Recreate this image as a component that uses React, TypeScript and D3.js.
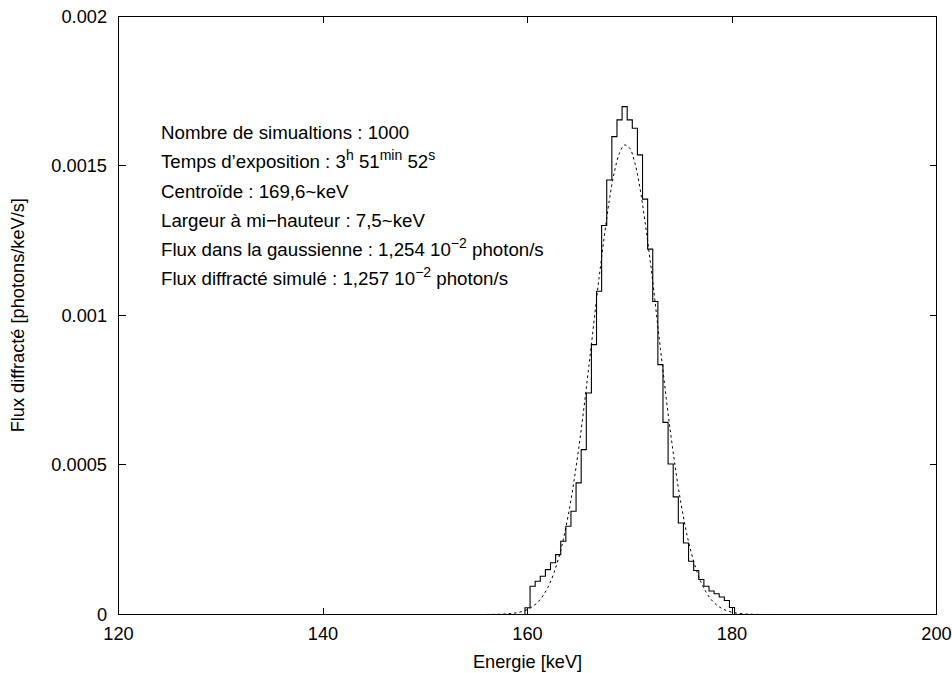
import React from 'react';
import * as d3 from 'd3';

const W = 952;
const H = 673;

// Histogram bins (centre energy in keV, width 0.5 keV) and flux values
const binCenters = [
  160.0, 160.5, 161.0, 161.5, 162.0, 162.5, 163.0, 163.5, 164.0, 164.5,
  165.0, 165.5, 166.0, 166.5, 167.0, 167.5, 168.0, 168.5, 169.0, 169.5,
  170.0, 170.5, 171.0, 171.5, 172.0, 172.5, 173.0, 173.5, 174.0, 174.5,
  175.0, 175.5, 176.0, 176.5, 177.0, 177.5, 178.0, 178.5, 179.0, 179.5,
  180.0,
];
const binValues = [
  0.0000224, 0.0000945, 0.000111, 0.000128, 0.00015, 0.000173, 0.0002, 0.000245, 0.000295, 0.000345,
  0.00044, 0.000551, 0.00074, 0.000902, 0.00108, 0.0013, 0.001452, 0.001597, 0.001653, 0.001697,
  0.001653, 0.001625, 0.001536, 0.001388, 0.001221, 0.001046, 0.000835, 0.000642, 0.000503, 0.000393,
  0.000306, 0.000239, 0.000178, 0.000147, 0.000117, 0.0000945, 0.0000785, 0.0000695, 0.0000585, 0.0000467,
  0.0000234,
];
const binWidth = 0.5;

// Fitted gaussian (dashed)
const gaussE = [
  156, 157, 158, 159, 160, 161, 162, 163, 164, 165, 166, 167, 168, 168.5, 169, 169.5,
  170, 170.5, 171, 172, 173, 174, 175, 176, 177, 178, 179, 180, 181, 182, 183, 184,
];
const gaussV = [
  0.0000002, 0.0000006, 0.0000021, 0.0000062, 0.0000167, 0.000041, 0.0000911, 0.0001834, 0.0003347, 0.000553,
  0.000829, 0.001125, 0.001384, 0.001479, 0.001542, 0.001569,
  0.001558, 0.001509, 0.001425, 0.001182, 0.000888, 0.000605, 0.000373, 0.0002085, 0.0001057, 0.0000485,
  0.0000202, 0.0000076, 0.0000026, 0.0000008, 0.0000002, 0.0,
];

const xTicks = [120, 140, 160, 180, 200];
const xTickLabels = ['120', '140', '160', '180', '200'];
const yTicks = [0, 0.0005, 0.001, 0.0015, 0.002];
const yTickLabels = ['0', '0.0005', '0.001', '0.0015', '0.002'];

const xTitle = 'Energie [keV]';
const yTitle = 'Flux diffract\u00e9 [photons/keV/s]';

type Seg = { t: string; sup?: boolean };
const annotations: Seg[][] = [
  [{ t: 'Nombre de simualtions : 1000' }],
  [
    { t: 'Temps d\u2019exposition : 3' }, { t: 'h', sup: true },
    { t: ' 51' }, { t: 'min', sup: true },
    { t: ' 52' }, { t: 's', sup: true },
  ],
  [{ t: 'Centro\u00efde : 169,6~keV' }],
  [{ t: 'Largeur \u00e0 mi\u2212hauteur : 7,5~keV' }],
  [{ t: 'Flux dans la gaussienne : 1,254 10' }, { t: '\u22122', sup: true }, { t: ' photon/s' }],
  [{ t: 'Flux diffract\u00e9 simul\u00e9 : 1,257 10' }, { t: '\u22122', sup: true }, { t: ' photon/s' }],
];

const FONT = '"Liberation Sans", Arial, Helvetica, sans-serif';

export default function App() {
  const x = d3.scaleLinear().domain([120, 200]).range([118.5, 936.5]);
  const y = d3.scaleLinear().domain([0, 0.002]).range([614.5, 16]);

  // histogram steps
  const pts: [number, number][] = [];
  pts.push([binCenters[0] - binWidth / 2, 0]);
  binCenters.forEach((c, i) => {
    pts.push([c - binWidth / 2, binValues[i]]);
    pts.push([c + binWidth / 2, binValues[i]]);
  });
  pts.push([binCenters[binCenters.length - 1] + binWidth / 2, 0]);
  const histPath = d3.line<[number, number]>().x((d) => x(d[0])).y((d) => y(d[1]))(pts) || '';

  const gaussPath =
    d3
      .line<number>()
      .x((_, i) => x(gaussE[i]))
      .y((d) => y(d))
      .curve(d3.curveCatmullRom)(gaussV) || '';

  const x0 = x(120), x1 = x(200), y0 = y(0), y1 = y(0.002);
  const tl = 7;
  const AF = 18.7;
  const SF = 14;

  return (
    <svg
      width={W}
      height={H}
      viewBox={`0 0 ${W} ${H}`}
      style={{ position: 'absolute', left: 0, top: 0, background: '#fff' }}
      fontFamily={FONT}
    >
      <rect x={0} y={0} width={W} height={H} fill="#fff" />
      {/* ticks */}
      <g stroke="#000" strokeWidth={1} shapeRendering="crispEdges">
        {xTicks.map((t) => (
          <g key={'xt' + t}>
            <line x1={x(t)} x2={x(t)} y1={y0} y2={y0 - tl} />
            <line x1={x(t)} x2={x(t)} y1={y1} y2={y1 + tl} />
          </g>
        ))}
        {yTicks.map((t) => (
          <g key={'yt' + t}>
            <line x1={x0} x2={x0 + tl} y1={y(t)} y2={y(t)} />
            <line x1={x1} x2={x1 - tl} y1={y(t)} y2={y(t)} />
          </g>
        ))}
      </g>
      {/* data */}
      <path d={gaussPath} fill="none" stroke="#000" strokeWidth={1} strokeDasharray="2.5,3" />
      <path d={histPath} fill="none" stroke="#000" strokeWidth={1.1} />
      {/* frame */}
      <rect
        x={x0}
        y={y1}
        width={x1 - x0}
        height={y0 - y1}
        fill="none"
        stroke="#000"
        strokeWidth={1}
        shapeRendering="crispEdges"
      />
      {/* tick labels */}
      <g fontSize={18.2} fill="#000">
        {yTicks.map((t, i) => (
          <text key={'yl' + t} x={107} y={y(t)} dy="0.36em" textAnchor="end">
            {yTickLabels[i]}
          </text>
        ))}
        {xTicks.map((t, i) => (
          <text key={'xl' + t} x={x(t)} y={640} textAnchor="middle">
            {xTickLabels[i]}
          </text>
        ))}
        <text x={(x0 + x1) / 2} y={668} textAnchor="middle">
          {xTitle}
        </text>
        <text transform={`translate(24, ${(y0 + y1) / 2}) rotate(-90)`} textAnchor="middle">
          {yTitle}
        </text>
      </g>
      {/* annotations */}
      <g fontSize={AF} fill="#000">
        {annotations.map((line, li) => (
          <text key={'an' + li} x={161} y={139 + li * 29.25}>
            {line.map((s, si) =>
              s.sup ? (
                <tspan key={si} fontSize={SF} dy={-8}>
                  {s.t}
                </tspan>
              ) : (
                <tspan key={si} fontSize={AF} dy={si > 0 && line[si - 1].sup ? 8 : 0}>
                  {s.t}
                </tspan>
              )
            )}
          </text>
        ))}
      </g>
    </svg>
  );
}
